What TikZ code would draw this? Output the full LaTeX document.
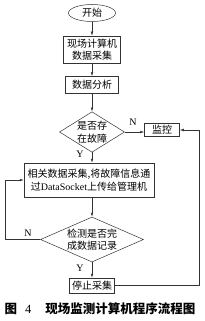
\documentclass[tikz,border=0pt]{standalone}
\usepackage{fontspec}
\setmainfont{Liberation Serif}
\newfontfamily\cjk{Noto Sans CJK SC}
\usetikzlibrary{shapes.geometric,arrows.meta}
\begin{document}
\begin{tikzpicture}[x=1pt,y={(0pt,-1pt)},
  line/.style={draw=black!80,line width=0.5pt},
  arr/.style={line,-{Latex[length=4pt,width=2.6pt]}},
  box/.style={line,rectangle,inner sep=0pt,align=center,font=\cjk\fontsize{10}{12.5}\selectfont},
  dec/.style={line,diamond,inner sep=0pt,align=center,font=\cjk\fontsize{10}{12.5}\selectfont},
  lab/.style={font=\fontsize{10}{12}\selectfont,inner sep=0pt}]
\useasboundingbox (0,0) rectangle (204,321);
\node[line,ellipse,minimum width=47pt,minimum height=17pt,inner sep=0pt,font=\cjk\fontsize{10}{12}\selectfont] (start) at (92,13) {开始};
\node[box,minimum width=57pt,minimum height=27pt] (b1) at (92,49.5) {现场计算机\\数据采集};
\node[box,minimum width=53pt,minimum height=17pt] (b2) at (92,85) {数据分析};
\node[dec,minimum width=65pt,minimum height=40pt,aspect=1.6] (d1) at (92,132) {是否存\\在故障};
\node[box,minimum width=35pt,minimum height=13pt] (mon) at (162,130) {监控};
\node[box,minimum width=130pt,minimum height=34pt] (big) at (89,180) {相关数据采集,将故障信息通\\过{\rmfamily DataSocket}上传给管理机};
\node[dec,minimum width=103pt,minimum height=45pt,aspect=2.3] (d2) at (92,239.5) {检测是否完\\成数据记录};
\node[box,minimum width=45pt,minimum height=15pt] (stop) at (92,285.5) {停止采集};
\coordinate (rr) at (199,0);
\coordinate (ll) at (5,0);
\draw[arr] (start) -- (b1);
\draw[arr] (b1) -- (b2);
\draw[arr] (b2) -- (d1);
\draw[arr] (d1.south) -- (d1.south |- big.north);
\draw[arr] (d1.east) -- (d1.east -| mon.west);
\draw[arr] (big.south -| d2.north) -- (d2.north);
\draw[arr] (d2) -- (stop);
\draw[arr] (d2.west) -- (d2.west -| ll) -- (ll |- big.west) -- (big.west);
\draw[arr] (stop.east) -- (stop.east -| rr) -- (rr |- mon.east) -- (mon.east);
\node[lab] (n1) at (133,122) {N};
\node[lab] (y1) at (80,154) {Y};
\node[lab] (n2) at (28,233) {N};
\node[lab] (y2) at (80,268) {Y};
\node[font=\cjk\bfseries\fontsize{12.5}{14}\selectfont,inner sep=0pt] (cap) at (100,309) {图\hspace{8pt}{\rmfamily\mdseries 4}\hspace{14pt}现场监测计算机程序流程图};
\end{tikzpicture}
\end{document}
